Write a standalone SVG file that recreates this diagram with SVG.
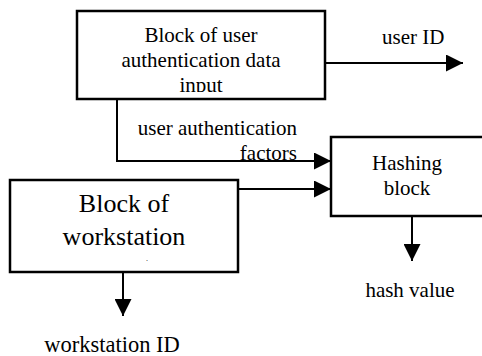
<svg xmlns="http://www.w3.org/2000/svg" width="482" height="356" viewBox="0 0 482 356" font-family="'Liberation Serif', 'DejaVu Serif', serif">
<style>
.box{fill:#fff;stroke:#000;stroke-width:2.5}
.ln{fill:none;stroke:#000;stroke-width:2}
.t{font-family:'Liberation Serif','Times New Roman','DejaVu Serif',serif;font-size:21px;fill:#000}
.big{font-size:26px}
</style>
<defs>
<marker id="ah" markerUnits="userSpaceOnUse" markerWidth="17" markerHeight="17" viewBox="0 0 16 16" refX="16" refY="8" orient="auto">
<path d="M0,0 L16,8 L0,16 Z" fill="#000"/>
</marker>
<clipPath id="clipTop"><rect x="78" y="12" width="246" height="80"/></clipPath>
</defs>
<rect width="482" height="356" fill="#fff"/>
<g id="connectors">
<path class="ln" d="M325,63 H463" marker-end="url(#ah)"/>
<path class="ln" d="M117,100 V161 H331" marker-end="url(#ah)"/>
<path class="ln" d="M238,189 H331" marker-end="url(#ah)"/>
<path class="ln" d="M412,216 V261" marker-end="url(#ah)"/>
<path class="ln" d="M123,272 V316" marker-end="url(#ah)"/>
<text class="t" x="382" y="44">user ID</text>
<text class="t" x="297" y="135" text-anchor="end">user authentication</text>
<text class="t" x="297" y="160" text-anchor="end">factors</text>
<text class="t" x="410" y="297" text-anchor="middle">hash value</text>
<text class="t" x="112" y="352" text-anchor="middle" style="font-size:22.5px">workstation ID</text>
</g>
<g id="auth-input">
<rect class="box" x="77" y="11" width="248" height="88"/>
<g clip-path="url(#clipTop)">
<text class="t" x="201" y="42" text-anchor="middle">Block of user</text>
<text class="t" x="201" y="67" text-anchor="middle">authentication data</text>
<text class="t" x="201" y="92" text-anchor="middle">input</text>
</g>
</g>
<g id="workstation">
<rect class="box" x="10" y="180" width="228" height="92"/>
<text class="t big" x="124" y="212" text-anchor="middle">Block of</text>
<text class="t big" x="124" y="245" text-anchor="middle">workstation</text>
<text class="t" x="146" y="261" style="font-size:8px">.</text>
</g>
<g id="hashing">
<rect class="box" x="331" y="137" width="160" height="79"/>
<text class="t" x="407" y="170" text-anchor="middle">Hashing</text>
<text class="t" x="407" y="195" text-anchor="middle">block</text>
</g>
</svg>
